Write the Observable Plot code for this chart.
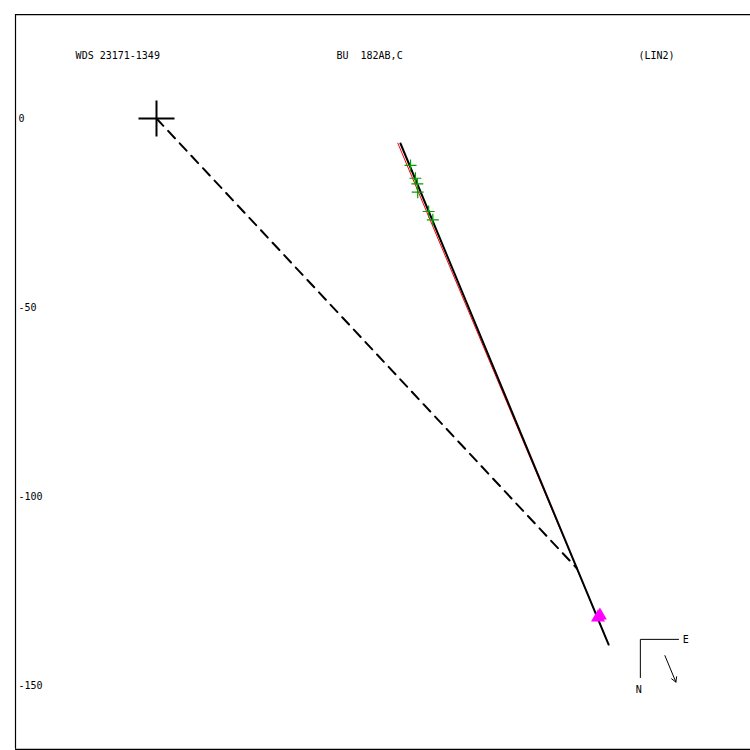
<!DOCTYPE html>
<html>
<head>
<meta charset="utf-8">
<script src="https://cdn.jsdelivr.net/npm/d3@7"></script>
<script src="https://cdn.jsdelivr.net/npm/@observablehq/plot@0.6"></script>
<style>
  html, body { margin: 0; padding: 0; background: #fff; overflow: hidden; }
  #chart svg { display: block; }
</style>
</head>
<body>
<div id="chart"></div>
<script>
// ---- data (units: arcsec-like relative position) ----
const headerLabels = ["WDS 23171-1349", "BU  182AB,C", "(LIN2)"];
const headerX = [-21.4, 47.6, 127.5];
const headerY = 16.7;

const yTicks = [0, -50, -100, -150];
const tickLabelX = -36.5;

// observed positions (green +)
const obsX = [67.2, 68.5, 69.0, 69.1, 72.0, 73.1];
const obsY = [-12.4, -15.8, -17.3, -19.5, -24.6, -26.8];

// recent measures (magenta triangles)
const triX = [116.8, 117.3];
const triY = [-132.0, -131.5];

// linear fit (black) and alternate fit (red)
const fitLine = [{x: 64.55, y: -6.61}, {x: 119.58, y: -139.15}];
const redLine = [{x: 63.84, y: -6.53}, {x: 119.7, y: -139.3}];

// primary and dashed line to the ephemeris point
const primary = [{x: 0, y: 0}];
const dashed = [{x: 0, y: 0}, {x: 111.24, y: -119.05}];

// frame bounds
const frameLeft = -37.3, frameRight = 157.14, frameTop = 27.5, frameBottom = -166.9;

// compass
const compassCorner = {x: 128.0, y: -137.8};
const compassE = {x: 138.1, y: -137.8};
const compassN = {x: 128.0, y: -147.9};
const compassArrow = [{x1: 134.5, y1: -142.1, x2: 137.4, y2: -149.1}];
const compassLabels = [{x: 140.0, y: -137.8, t: "E", a: "start"}, {x: 127.6, y: -151.1, t: "N", a: "middle"}];

// ---- build ----
const obs = obsX.map((x, i) => ({x, y: obsY[i]}));
const tris = triX.map((x, i) => ({x, y: triY[i]}));
const headers = headerLabels.map((t, i) => ({t, x: headerX[i], y: headerY}));

const plusSymbol = {
  draw(ctx, size) {
    const r = Math.sqrt(size / Math.PI);
    ctx.moveTo(-r, 0); ctx.lineTo(r, 0);
    ctx.moveTo(0, -r); ctx.lineTo(0, r);
  }
};

const font = "DejaVu Sans Mono, monospace";

const chart = Plot.plot({
  width: 750,
  height: 750,
  margin: 0,
  style: {fontFamily: font, fontSize: "10px", background: "#fff", overflow: "visible"},
  x: {domain: [-41.27, 157.14], range: [0, 750], axis: null},
  y: {domain: [31.22, -167.2], range: [0, 750], axis: null},
  marks: [
    // frame (top, left, bottom)
    Plot.ruleY([frameTop], {x1: frameLeft, x2: frameRight, stroke: "#000", strokeWidth: 1.2}),
    Plot.ruleY([frameBottom], {x1: frameLeft, x2: frameRight, stroke: "#000", strokeWidth: 1.2}),
    Plot.ruleX([frameLeft], {y1: frameTop, y2: frameBottom, stroke: "#000", strokeWidth: 1.2}),
    // header
    Plot.text(headers, {x: "x", y: "y", text: "t", textAnchor: "start", fill: "#000", fontSize: 10}),
    // y tick labels
    Plot.text(yTicks, {x: () => tickLabelX, y: d => d, text: d => String(d), textAnchor: "start", fill: "#000", fontSize: 10}),
    // dashed line
    Plot.line(dashed, {x: "x", y: "y", stroke: "#000", strokeWidth: 2, strokeDasharray: "10,7"}),
    // red line
    Plot.line(redLine, {x: "x", y: "y", stroke: "#ff0000", strokeWidth: 1}),
    // black fit
    Plot.line(fitLine, {x: "x", y: "y", stroke: "#000", strokeWidth: 2}),
    // observations
    Plot.dot(obs, {x: "x", y: "y", symbol: plusSymbol, r: 6, stroke: "#00a000", strokeWidth: 1.2, fill: "none"}),
    // triangles
    Plot.dot(tris, {x: "x", y: "y", symbol: "triangle", r: 5.2, fill: "#ff00ff", stroke: "none"}),
    // primary cross
    Plot.dot(primary, {x: "x", y: "y", symbol: plusSymbol, r: 18, stroke: "#000", strokeWidth: 2, fill: "none"}),
    // compass
    Plot.line([compassE, compassCorner, compassN], {x: "x", y: "y", stroke: "#000", strokeWidth: 1}),
    Plot.arrow(compassArrow, {x1: "x1", y1: "y1", x2: "x2", y2: "y2", stroke: "#000", strokeWidth: 1, headLength: 8, bend: 0}),
    Plot.text(compassLabels, {x: "x", y: "y", text: "t", textAnchor: "a", fill: "#000", fontSize: 10})
  ]
});
document.getElementById("chart").appendChild(chart);
</script>
</body>
</html>
